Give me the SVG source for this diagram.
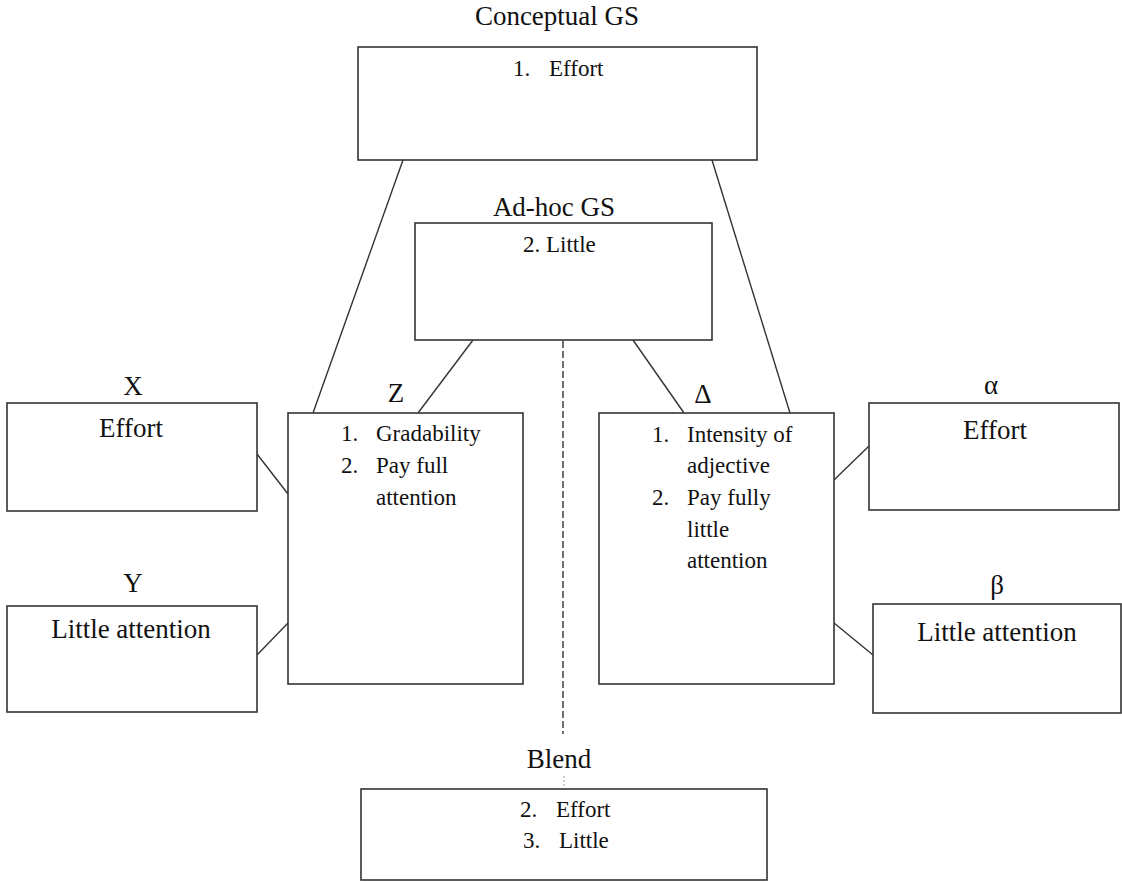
<svg xmlns="http://www.w3.org/2000/svg" width="1122" height="882" viewBox="0 0 1122 882">
<style>
.box{fill:#fff;stroke:#333;stroke-width:1.6}
.t{font-family:'Liberation Serif','Tinos','Times New Roman','DejaVu Serif',serif;fill:#111}
.title{font-size:27px;text-anchor:middle}
.lab{font-size:27px;text-anchor:middle}
.big{font-size:27px;text-anchor:middle}
.item{font-size:23px}
.conn{stroke:#333;stroke-width:1.4;fill:none}
.dash{stroke:#333;stroke-width:1.4;stroke-dasharray:7 3;fill:none}
</style>
<rect width="1122" height="882" fill="#fff"/>
<g id="connectors">
<line class="conn" x1="403" y1="160" x2="313" y2="413"/>
<line class="conn" x1="712" y1="160" x2="790" y2="413"/>
<line class="conn" x1="473" y1="340" x2="418" y2="413"/>
<line class="conn" x1="633" y1="340" x2="684" y2="413"/>
<line class="conn" x1="257" y1="454" x2="288" y2="494"/>
<line class="conn" x1="257" y1="655" x2="288" y2="623"/>
<line class="conn" x1="834" y1="480" x2="869" y2="446"/>
<line class="conn" x1="834" y1="623" x2="873" y2="655"/>
<line class="dash" x1="563" y1="341" x2="563" y2="734"/>
<line x1="564" y1="776" x2="564" y2="787" stroke="#999" stroke-width="1" stroke-dasharray="2 2"/>
</g>
<g font-family="Liberation Serif, DejaVu Serif, serif">
<g id="conceptual">
<text class="t title" x="557" y="25">Conceptual GS</text>
<rect class="box" x="358" y="47" width="399" height="113"/>
<text class="t item" x="513" y="76">1.</text>
<text class="t item" x="549" y="76">Effort</text>
</g>
<g id="adhoc">
<text class="t title" x="554" y="216">Ad-hoc GS</text>
<rect class="box" x="415" y="223" width="297" height="117"/>
<text class="t item" x="523" y="252">2. Little</text>
</g>
<g id="x">
<text class="t lab" x="133" y="395">X</text>
<rect class="box" x="7" y="403" width="250" height="108"/>
<text class="t big" x="131" y="437">Effort</text>
</g>
<g id="y">
<text class="t lab" x="133" y="592">Y</text>
<rect class="box" x="7" y="606" width="250" height="106"/>
<text class="t big" x="131" y="638">Little attention</text>
</g>
<g id="z">
<text class="t lab" x="396" y="402">Z</text>
<rect class="box" x="288" y="413" width="235" height="271"/>
<text class="t item" x="341" y="441">1.</text>
<text class="t item" x="376" y="441">Gradability</text>
<text class="t item" x="341" y="473">2.</text>
<text class="t item" x="376" y="473">Pay full</text>
<text class="t item" x="376" y="505">attention</text>
</g>
<g id="delta">
<text class="t lab" x="703" y="403">Δ</text>
<rect class="box" x="599" y="413" width="235" height="271"/>
<text class="t item" x="652" y="442">1.</text>
<text class="t item" x="687" y="442">Intensity of</text>
<text class="t item" x="687" y="473">adjective</text>
<text class="t item" x="652" y="505">2.</text>
<text class="t item" x="687" y="505">Pay fully</text>
<text class="t item" x="687" y="537">little</text>
<text class="t item" x="687" y="568">attention</text>
</g>
<g id="alpha">
<text class="t lab" x="991" y="394">α</text>
<rect class="box" x="869" y="403" width="250" height="107"/>
<text class="t big" x="995" y="439">Effort</text>
</g>
<g id="beta">
<text class="t lab" x="997" y="594">β</text>
<rect class="box" x="873" y="604" width="248" height="109"/>
<text class="t big" x="997" y="641">Little attention</text>
</g>
<g id="blend">
<text class="t title" x="559" y="768">Blend</text>
<rect class="box" x="361" y="789" width="406" height="91"/>
<text class="t item" x="520" y="817">2.</text>
<text class="t item" x="556" y="817">Effort</text>
<text class="t item" x="523" y="848">3.</text>
<text class="t item" x="559" y="848">Little</text>
</g>
</g>
</svg>
